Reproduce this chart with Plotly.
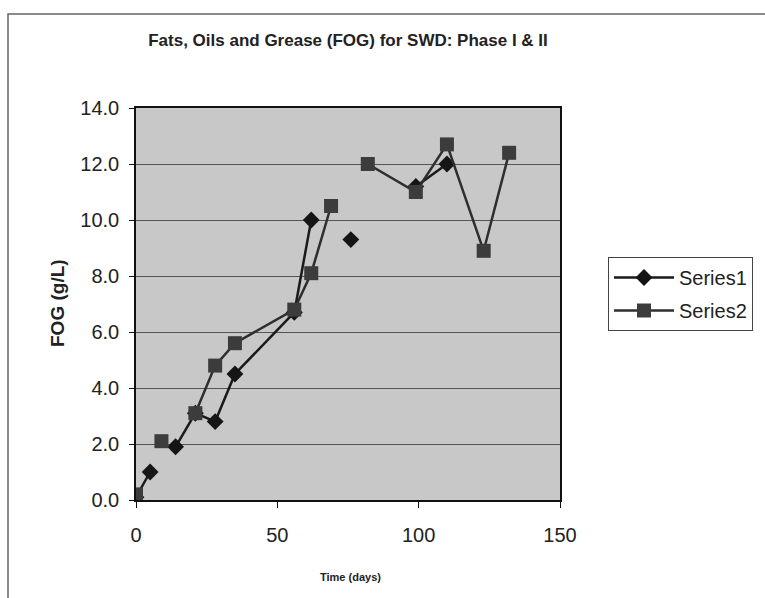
import plotly.graph_objects as go

days = [0, 5, 9, 14, 21, 28, 35, 56, 62, 69, 76, 82, 99, 110, 123, 132]
series1 = [0.1, 1.0, None, 1.9, 3.1, 2.8, 4.5, 6.7, 10.0, None, 9.3, None, 11.2, 12.0, None, None]
series2 = [0.2, None, 2.1, None, 3.1, 4.8, 5.6, 6.8, 8.1, 10.5, None, 12.0, 11.0, 12.7, 8.9, 12.4]

title_text = "Fats, Oils and Grease (FOG) for SWD: Phase I & II"
x_title = "Time (days)"
y_title = "FOG (g/L)"

FONT = "Liberation Sans, Arial, sans-serif"

fig = go.Figure()
fig.add_trace(go.Scatter(
    x=days, y=series1, name="Series1", mode="lines+markers",
    connectgaps=False,
    line=dict(color="#1a1a1a", width=2.5),
    marker=dict(symbol="diamond", size=13, color="#151515"),
    legendgroup="a",
))
fig.add_trace(go.Scatter(
    x=days, y=series2, name="Series2", mode="lines+markers",
    connectgaps=False,
    line=dict(color="#2e2e2e", width=2.5),
    marker=dict(symbol="square", size=14, color="#3c3c3c"),
    legendgroup="b",
))

L, R, T, B = 136, 560, 108, 500
W, H = 765, 598
pw, ph = R - L, B - T

def px_x(p):
    return (p - L) / pw

def px_y(p):
    return (B - p) / ph

fig.update_layout(
    width=W, height=H, autosize=False,
    margin=dict(l=L, r=W - R, t=T, b=H - B),
    paper_bgcolor="white",
    plot_bgcolor="#c8c8c8",
    font=dict(family=FONT, color="#222222"),
    showlegend=True,
    legend=dict(
        x=px_x(608), y=px_y(257), xanchor="left", yanchor="top",
        bordercolor="#444444", borderwidth=1, bgcolor="white",
        font=dict(size=20, family=FONT, color="#222222"),
        tracegroupgap=4, itemwidth=60,
    ),
    title=dict(
        text="<b>" + title_text + "</b>",
        x=348 / W, xref="container", xanchor="center",
        y=1 - 40 / H, yref="container", yanchor="middle",
        font=dict(size=17, family=FONT, color="#222222"),
    ),
    xaxis=dict(
        range=[0, 150], dtick=50, tick0=0,
        showgrid=False, zeroline=False,
        showline=True, linecolor="#111111", linewidth=1.5, mirror=True,
        ticks="outside", ticklen=6, tickcolor="#111111", tickwidth=1,
        tickfont=dict(size=20, family=FONT, color="#222222"),
        ticklabelstandoff=10,
    ),
    yaxis=dict(
        range=[0, 14], dtick=2, tick0=0, tickformat=".1f",
        showgrid=True, gridcolor="#555555", gridwidth=1.3,
        zeroline=False,
        showline=True, linecolor="#111111", linewidth=1.5, mirror=True,
        ticks="outside", ticklen=5, tickcolor="#111111", tickwidth=1,
        tickfont=dict(size=20, family=FONT, color="#222222"),
        ticklabelstandoff=6,
    ),
    annotations=[
        dict(text="<b>" + x_title + "</b>", xref="paper", yref="paper",
             x=px_x(350), y=px_y(577), xanchor="center", yanchor="middle",
             showarrow=False, font=dict(size=11, family=FONT, color="#222222")),
        dict(text="<b>" + y_title + "</b>", xref="paper", yref="paper",
             x=px_x(57), y=px_y(303), xanchor="center", yanchor="middle",
             textangle=-90, showarrow=False,
             font=dict(size=19, family=FONT, color="#222222")),
    ],
    shapes=[
        dict(type="rect", xref="paper", yref="paper",
             x0=px_x(8), x1=px_x(800), y0=px_y(640), y1=px_y(14),
             line=dict(color="#666666", width=1.5), layer="below"),
    ],
)

fig.write_html("out.html")
